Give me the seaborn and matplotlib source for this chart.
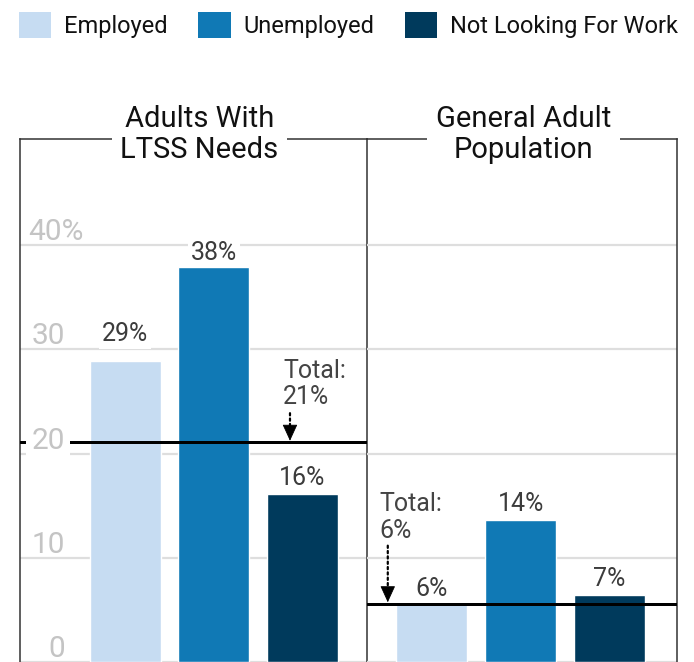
import matplotlib
matplotlib.use("Agg")
import matplotlib.pyplot as plt
from matplotlib.patches import Patch
import seaborn as sns
import pandas as pd

# ---------------- data ----------------
statuses = ["Employed", "Unemployed", "Not Looking For Work"]
group_titles = ["Adults With\nLTSS Needs", "General Adult\nPopulation"]
ltss_values = [28.9, 37.9, 16.1]
general_values = [5.6, 13.6, 6.4]
ltss_labels = ["29%", "38%", "16%"]
general_labels = ["6%", "14%", "7%"]
totals = [21.1, 5.6]
total_labels = ["21%", "6%"]
y_ticks = [0, 10, 20, 30, 40]
y_tick_labels = ["0", "10", "20", "30", "40%"]

# ---------------- style ----------------
colors = ["#c6dcf2", "#1079b5", "#003a5c"]
sns.set_theme(style="white")
plt.rcParams["font.family"] = ["Roboto", "DejaVu Sans"]

PX = 0.72  # points per pixel at dpi 100
W, H = 694, 662
fig = plt.figure(figsize=(W / 100, H / 100), dpi=100)
ax1 = fig.add_axes([20 / W, 0, 347 / W, 523 / H])
ax2 = fig.add_axes([367 / W, 0, 310 / W, 523 / H])
axes = [ax1, ax2]

values_list = [ltss_values, general_values]
labels_list = [ltss_labels, general_labels]
xlims = [(-1.19, 2.73), (-0.73, 2.76)]
label_offsets = [[20, 7, 9], [8, 9, 9]]        # px above bar top
title_x = [0.517, 0.506]
arrow_x = [1.86, -0.496]
arrow_len = [29, 58]      # px
text_dy = [38, 66]        # px, baseline of last text line above total line
text_dx = [-7, -8]        # px
head_len = 15             # px

for k, ax in enumerate(axes):
    df = pd.DataFrame({"status": statuses, "pct": values_list[k]})
    sns.barplot(data=df, x="status", y="pct", hue="status", palette=colors,
                hue_order=statuses, order=statuses, width=0.8, saturation=1,
                legend=False, ax=ax, zorder=1)
    ax.set_xlim(*xlims[k])
    ax.set_ylim(0.29, 50.2)
    ax.set_yticks(y_ticks)
    ax.set_yticklabels([])
    ax.set_xticks([])
    ax.set_xlabel("")
    ax.set_ylabel("")
    ax.tick_params(left=False, bottom=False, length=0)
    ax.yaxis.grid(True, color="#dedede", lw=1.6)
    ax.set_axisbelow(True)
    for side in ["top", "left", "right"]:
        ax.spines[side].set_visible(True)
        ax.spines[side].set_color("#333333")
        ax.spines[side].set_linewidth(1.1)
    ax.spines["bottom"].set_visible(False)
    if k == 1:
        ax.spines["left"].set_visible(False)
    ax.patch.set_alpha(0)

    # title sitting on the top frame (last line baseline given)
    ax.annotate(group_titles[k], xy=(title_x[k], 1.0), xycoords="axes fraction",
                xytext=(0, -19 * PX), textcoords="offset points",
                ha="center", va="baseline", fontsize=21, color="#111111",
                linespacing=1.15, zorder=6, annotation_clip=False,
                bbox=dict(boxstyle="square,pad=0.3", fc="white", ec="none"))

    # value labels
    for i, (v, lab) in enumerate(zip(values_list[k], labels_list[k])):
        ax.annotate(lab, xy=(i, v), xytext=(0, label_offsets[k][i] * PX),
                    textcoords="offset points", ha="center", va="baseline",
                    fontsize=18, color="#3c3c3c", zorder=3,
                    bbox=dict(boxstyle="square,pad=0.12", fc="white", ec="none"))

    # total line
    ax.axhline(totals[k], color="black", lw=3 * PX, zorder=4)

    # total annotation: dotted shaft + solid head
    ax.annotate("", xy=(arrow_x[k], totals[k]),
                xytext=(0, arrow_len[k] * PX), textcoords="offset points",
                arrowprops=dict(arrowstyle="-", color="black", lw=1.6,
                                linestyle=(0, (1, 1.4)),
                                shrinkA=0, shrinkB=head_len * PX * 0.8), zorder=4)
    ax.annotate("", xy=(arrow_x[k], totals[k]),
                xytext=(0, head_len * PX), textcoords="offset points",
                arrowprops=dict(arrowstyle="-|>,head_length=1.05,head_width=0.48",
                                color="black", lw=0.6, mutation_scale=10,
                                shrinkA=0, shrinkB=1), zorder=4)
    ax.annotate("Total:\n" + total_labels[k], xy=(arrow_x[k], totals[k]),
                xytext=(text_dx[k] * PX, text_dy[k] * PX), textcoords="offset points",
                ha="left", va="baseline", fontsize=18, color="#444444",
                linespacing=1.12, zorder=4)

# y tick labels inside left panel
for t, lab in zip(y_ticks, y_tick_labels):
    near_total = abs(t - totals[0]) < 2.5
    if lab.endswith("%"):
        xf, ha = (28 - 20) / 347, "left"
    else:
        xf, ha = (65 - 20) / 347, "right"
    ax1.annotate(lab, xy=(xf, t), xycoords=("axes fraction", "data"),
                 xytext=(0, 5 * PX), textcoords="offset points",
                 ha=ha, va="baseline", fontsize=21.5, color="#c4c4c4", zorder=5,
                 bbox=(dict(boxstyle="square,pad=0.18", fc="white", ec="none")
                       if near_total else None))

# legend
handles = [Patch(facecolor=c, edgecolor="none", label=s) for c, s in zip(colors, statuses)]
fig.legend(handles=handles, loc="upper left", bbox_to_anchor=(19 / W, 1 - 12 / H),
           ncol=3, frameon=False, fontsize=17, handlelength=1.36, handleheight=1.31,
           handletextpad=0.55, columnspacing=1.3, borderpad=0, borderaxespad=0,
           labelcolor="#111111")

fig.savefig("out.png", dpi=100)
